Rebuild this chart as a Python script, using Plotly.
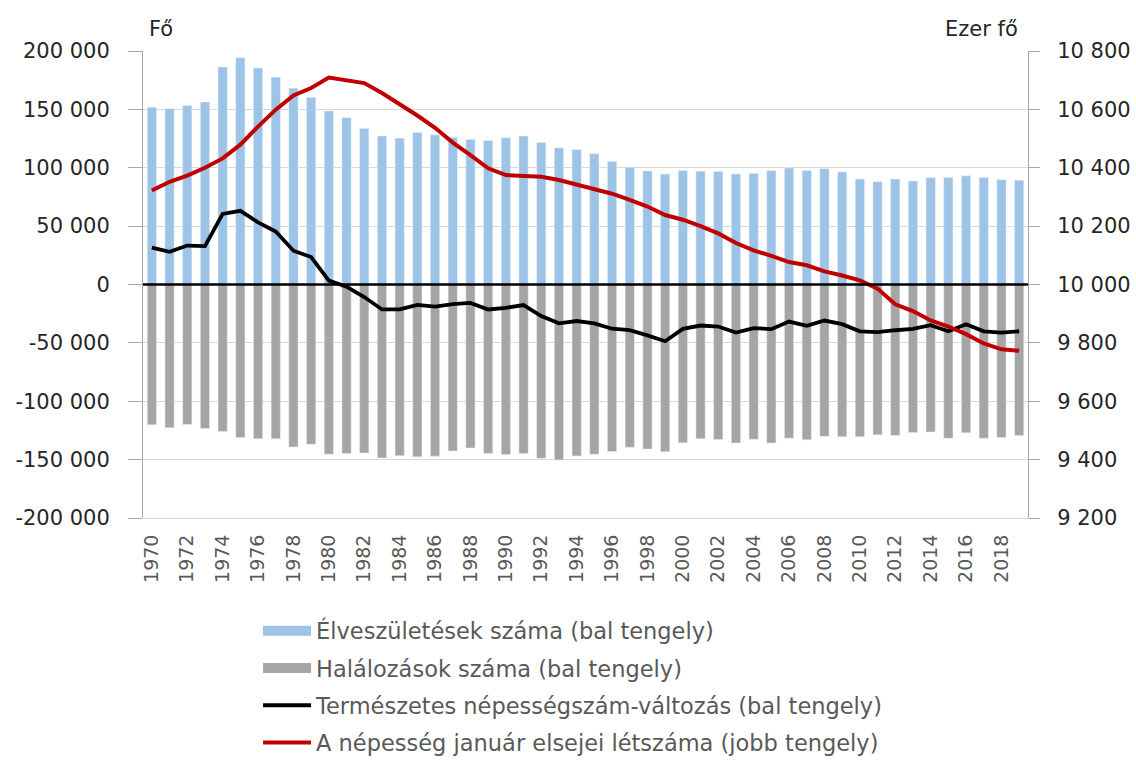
import plotly.graph_objects as go

years = list(range(1970, 2020))
births = [151819, 150640, 153265, 156224, 186288, 194240, 185405, 177574, 168160, 160364,
          148673, 142890, 133559, 127258, 125359, 130200, 128204, 125840, 124296, 123304,
          125679, 127207, 121724, 117033, 115598, 112054, 105272, 100350, 97301, 94645,
          97597, 97047, 96804, 94647, 95137, 97496, 99871, 97613, 99149, 96442,
          90335, 88049, 90269, 88689, 91510, 91690, 93063, 91577, 89807, 89193]
deaths = [120197, 122643, 119925, 123371, 125816, 131102, 132142, 132146, 139183, 136829,
          145355, 144757, 144318, 148643, 146709, 147614, 147089, 142601, 140042, 144695,
          145660, 144813, 148781, 150244, 146889, 145431, 143130, 139434, 140870, 143210,
          135601, 132183, 132833, 135823, 132492, 135732, 131603, 132938, 130027, 130414,
          130456, 128795, 129440, 126778, 126308, 131697, 127053, 131674, 131045, 129245]
population = [10322, 10352, 10373, 10400, 10432, 10479, 10541, 10599, 10648, 10673,
              10709, 10700, 10690, 10656, 10619, 10579, 10537, 10486, 10443, 10398,
              10375, 10373, 10369, 10358, 10343, 10329, 10311, 10290, 10267, 10238,
              10222, 10200, 10175, 10142, 10117, 10098, 10077, 10066, 10045, 10031,
              10014, 9986, 9932, 9909, 9877, 9856, 9830, 9798, 9778, 9773]
natural_change = [b - d for b, d in zip(births, deaths)]
neg_deaths = [-d for d in deaths]

left_ticks = [200000, 150000, 100000, 50000, 0, -50000, -100000, -150000, -200000]
left_labels = ["200 000", "150 000", "100 000", "50 000", "0", "-50 000", "-100 000", "-150 000", "-200 000"]
right_ticks = [10800, 10600, 10400, 10200, 10000, 9800, 9600, 9400, 9200]
right_labels = ["10 800", "10 600", "10 400", "10 200", "10 000", "9 800", "9 600", "9 400", "9 200"]
x_ticks = list(range(1970, 2019, 2))

names = ["Élveszületések száma (bal tengely)",
         "Halálozások száma (bal tengely)",
         "Természetes népességszám-változás (bal tengely)",
         "A népesség január elsejei létszáma (jobb tengely)"]

FONT = "DejaVu Sans"
BLUE = "#9DC3E6"
GRAY = "#A5A5A5"
RED = "#C00000"

fig = go.Figure()
fig.add_trace(go.Bar(x=years, y=births, name=names[0], marker_color=BLUE,
                     width=0.52, showlegend=False))
fig.add_trace(go.Bar(x=years, y=neg_deaths, name=names[1], marker_color=GRAY,
                     width=0.52, showlegend=False))
fig.add_trace(go.Scatter(x=years, y=natural_change, name=names[2], mode="lines",
                         line=dict(color="black", width=3.8), showlegend=False))
fig.add_trace(go.Scatter(x=years, y=population, name=names[3], mode="lines",
                         line=dict(color=RED, width=4), yaxis="y2", showlegend=False))

# legend entries
legend_styles = [(BLUE, 16), (GRAY, 16), ("black", 4), (RED, 4)]
for i, (c, w) in enumerate(legend_styles):
    fig.add_trace(go.Scatter(x=[None], y=[None], name=names[i], mode="lines",
                             line=dict(color=c, width=w), legendgroup=f"g{i}",
                             hoverinfo="skip"))

fig.update_layout(
    width=1136, height=760,
    margin=dict(l=143, r=108, t=51, b=242, autoexpand=False),
    paper_bgcolor="white", plot_bgcolor="white",
    barmode="relative",
    font=dict(family=FONT, size=21, color="#404040"),
    showlegend=True,
    legend=dict(x=0.13, y=-0.196, xanchor="left", yanchor="top",
                font=dict(family=FONT, size=22.5, color="#595959"),
                tracegroupgap=5, itemwidth=48, bgcolor="rgba(0,0,0,0)"),
    xaxis=dict(range=[1969.5, 2019.5], tickmode="array", tickvals=x_ticks,
               ticktext=[str(t) for t in x_ticks], tickangle=-90,
               tickfont=dict(family=FONT, size=19, color="#595959"),
               showgrid=False, zeroline=False, showline=True, linecolor="#D9D9D9",
               linewidth=1, ticks="", automargin=False, ticklabelstandoff=8),
    yaxis=dict(range=[-200000, 200000], tickmode="array", tickvals=left_ticks,
               ticktext=left_labels, showgrid=True, gridcolor="#D9D9D9", gridwidth=1,
               zeroline=False,
               showline=True, linecolor="#A6A6A6", linewidth=1,
               ticks="outside", ticklen=14, tickcolor="#A6A6A6",
               automargin=False, ticklabelstandoff=14,
               tickfont=dict(family=FONT, size=21, color="#262626")),
    yaxis2=dict(range=[9200, 10800], overlaying="y", side="right",
                tickmode="array", tickvals=right_ticks, ticktext=right_labels,
                showgrid=False, zeroline=False, showline=True, linecolor="#A6A6A6",
                linewidth=1, ticks="outside", ticklen=11, tickcolor="#A6A6A6",
                automargin=False, ticklabelstandoff=13,
                tickfont=dict(family=FONT, size=21, color="#262626")),
    shapes=[dict(type="line", xref="paper", yref="y", x0=0, x1=1, y0=0, y1=0,
                 line=dict(color="black", width=2.5), layer="above")],
    annotations=[
        dict(text="Fő", xref="paper", yref="paper", x=0.0, y=1.0, yshift=8,
             xshift=4, xanchor="left", yanchor="bottom", showarrow=False,
             font=dict(family=FONT, size=21, color="#262626")),
        dict(text="Ezer fő", xref="paper", yref="paper", x=1.0, y=1.0, yshift=8,
             xshift=-8, xanchor="right", yanchor="bottom", showarrow=False,
             font=dict(family=FONT, size=21, color="#262626")),
    ],
)

fig.write_html("out.html", config={"displayModeBar": False},
               post_script="document.body.style.margin='0';document.body.style.overflow='hidden';")
